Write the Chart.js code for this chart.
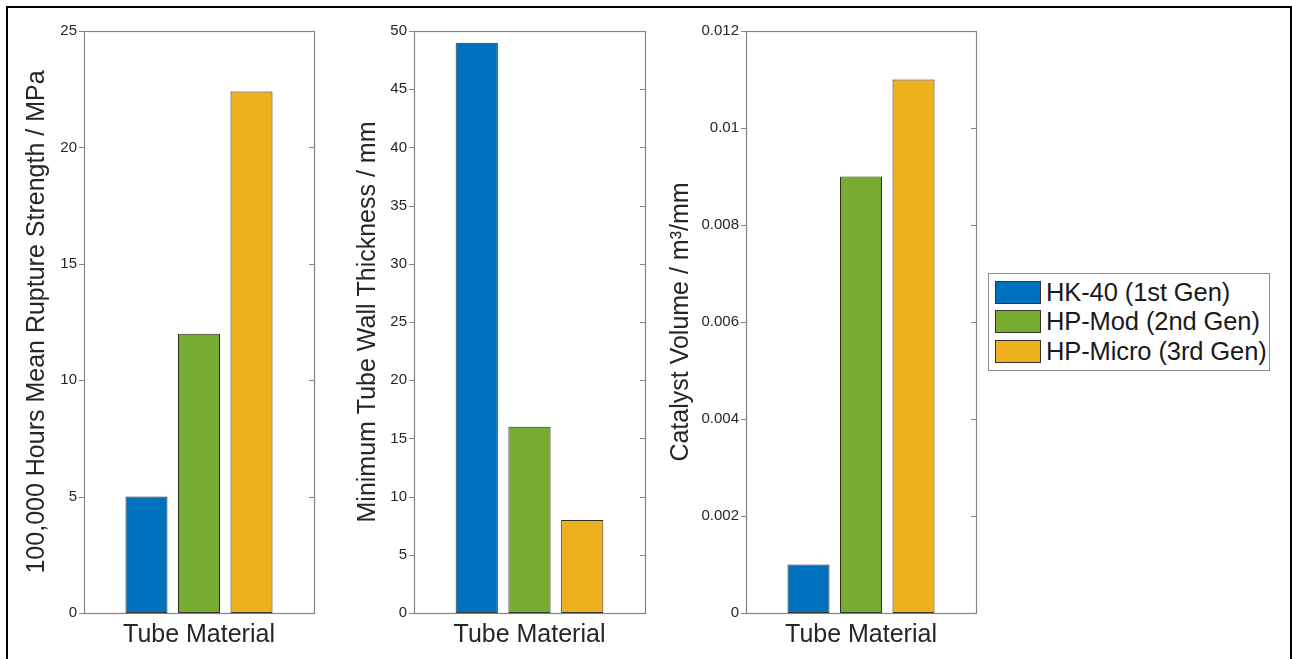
<!DOCTYPE html>
<html>
<head>
<meta charset="utf-8">
<title>Reformer tube materials</title>
<script src="https://cdn.jsdelivr.net/npm/chart.js@4.4.1/dist/chart.umd.min.js"></script>
<style>
  html, body { margin: 0; padding: 0; background: #fff; width: 1292px; height: 659px; overflow: hidden; }
  canvas { position: absolute; top: 0; }
  #frame { position: absolute; left: 6px; top: 6px; width: 1282px; height: 720px;
           border: 2px solid #000; border-bottom: none; pointer-events: none; }
  #legend { position: absolute; left: 988px; top: 273px; width: 280px; height: 96px;
            border: 1px solid #8c8c8c; background: #fff;
            font-family: 'Liberation Sans', Arial, sans-serif; color: #1a1a1a; }
  .row { position: absolute; left: 6px; height: 24px; display: flex; align-items: center; }
  .sw { width: 46px; height: 23px; border: 1px solid #333; box-sizing: border-box; margin-right: 5px; flex: none; }
  .lbl { font-size: 25.5px; white-space: nowrap; letter-spacing: -0.1px; }
</style>
</head>
<body>
<canvas id="c1" width="330" height="659" style="left:0px"></canvas>
<canvas id="c2" width="330" height="659" style="left:330px"></canvas>
<canvas id="c3" width="330" height="659" style="left:661px"></canvas>
<div id="legend"></div>
<div id="frame"></div>
<script>
// Tube materials (one bar each) and their colours
const materials = ['HK-40 (1st Gen)', 'HP-Mod (2nd Gen)', 'HP-Micro (3rd Gen)'];
const materialColors = ['#0072BD', '#77AC30', '#EDB120'];

// Category on the x axis
const categories = ['Tube Material'];

// Values per material
const ruptureStrength = [5, 12, 22.4];        // MPa, 100,000 h mean rupture strength
const wallThickness = [49, 16, 8];            // mm
const catalystVolume = [0.001, 0.009, 0.011]; // m^3/mm

// Tick values for each panel
const ruptureTicks = [0, 5, 10, 15, 20, 25];
const thicknessTicks = [0, 5, 10, 15, 20, 25, 30, 35, 40, 45, 50];
const volumeTicks = [0, 0.002, 0.004, 0.006, 0.008, 0.01, 0.012];

const AXIS_COLOR = '#858585';
const TEXT_COLOR = '#262626';
const FONT = "'Liberation Sans', Arial, Helvetica, sans-serif";
Chart.defaults.font.family = FONT;

// Box around the plot area plus tick marks (outward on the left, inward on the right)
const boxAxes = {
  id: 'boxAxes',
  afterDatasetsDraw(chart) {
    const { ctx, chartArea: a, scales: { y } } = chart;
    ctx.save();
    ctx.strokeStyle = AXIS_COLOR;
    ctx.lineWidth = 1.2;
    ctx.beginPath();
    y.ticks.forEach(t => {
      const py = Math.round(y.getPixelForValue(t.value)) + 0.5;
      ctx.moveTo(a.left - 5, py); ctx.lineTo(a.left, py);
      ctx.moveTo(a.right, py); ctx.lineTo(a.right - 5, py);
    });
    ctx.stroke();
    const l = Math.round(a.left) + 0.5, t = Math.round(a.top) + 0.5;
    ctx.strokeRect(l, t, Math.round(a.right) - Math.round(a.left), Math.round(a.bottom) - Math.round(a.top));
    ctx.restore();
  }
};

function makePanel(id, values, ticks, yTitle, opts) {
  const datasets = materials.map((name, i) => ({
    label: name,
    data: [values[i]],
    backgroundColor: materialColors[i],
    borderColor: '#2b2b2b',
    borderWidth: 1,
    borderSkipped: false,
    categoryPercentage: 0.685,
    barPercentage: 0.8
  }));
  return new Chart(document.getElementById(id), {
    type: 'bar',
    data: { labels: categories, datasets },
    plugins: [boxAxes],
    options: {
      responsive: false,
      animation: false,
      layout: { padding: { left: 0, right: opts.padRight, top: 31, bottom: 0 } },
      plugins: { legend: { display: false }, tooltip: { enabled: false } },
      scales: {
        x: {
          grid: { display: false, drawTicks: false },
          border: { display: false },
          ticks: { display: false },
          title: {
            display: true, text: categories[0], color: TEXT_COLOR,
            font: { size: 25, family: FONT }, padding: { top: 0, bottom: 9 }
          },
          afterFit(s) { s.height = 46; }
        },
        y: {
          min: ticks[0],
          max: ticks[ticks.length - 1],
          grid: { display: false, drawTicks: false },
          border: { display: false },
          afterBuildTicks(s) { s.ticks = ticks.map(v => ({ value: v })); },
          ticks: {
            color: TEXT_COLOR, padding: 7,
            font: { size: 15, family: FONT },
            callback: opts.fmt
          },
          title: {
            display: true, text: yTitle, color: TEXT_COLOR,
            font: { size: 25, family: FONT }, padding: { top: opts.titlePad, bottom: 0 }
          },
          afterFit(s) { s.width = opts.axisWidth; }
        }
      }
    }
  });
}

const intFmt = v => String(v);
const decFmt = v => (v === 0 ? '0' : String(parseFloat(Number(v).toFixed(4))));

makePanel('c1', ruptureStrength, ruptureTicks,
  '100,000 Hours Mean Rupture Strength / MPa',
  { axisWidth: 84, padRight: 16, titlePad: 22.3, fmt: intFmt });
makePanel('c2', wallThickness, thicknessTicks,
  'Minimum Tube Wall Thickness / mm',
  { axisWidth: 84, padRight: 15, titlePad: 23, fmt: intFmt });
makePanel('c3', catalystVolume, volumeTicks,
  'Catalyst Volume / m\u00B3/mm',
  { axisWidth: 85, padRight: 15, titlePad: 5.6, fmt: decFmt });

// Shared legend
const legend = document.getElementById('legend');
materials.forEach((name, i) => {
  const row = document.createElement('div');
  row.className = 'row';
  row.style.top = (6 + i * 29.6) + 'px';
  const sw = document.createElement('div');
  sw.className = 'sw';
  sw.style.background = materialColors[i];
  const lbl = document.createElement('span');
  lbl.className = 'lbl';
  lbl.textContent = name;
  row.appendChild(sw);
  row.appendChild(lbl);
  legend.appendChild(row);
});
</script>
</body>
</html>
